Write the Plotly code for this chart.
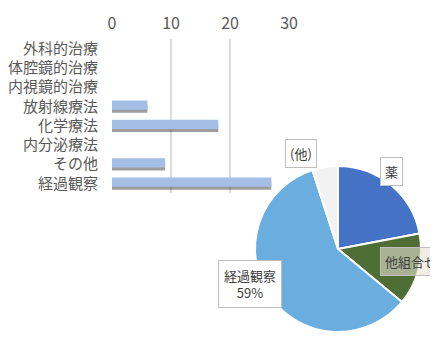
import plotly.graph_objects as go

# Bar chart data
bar_categories = ["外科的治療", "体腔鏡的治療", "内視鏡的治療", "放射線療法", "化学療法", "内分泌療法", "その他", "経過観察"]
bar_values = [0, 0, 0, 6, 18, 0, 9, 27]
x_ticks = [0, 10, 20, 30]

# Pie chart data
pie_labels = ["薬", "他組合せ", "経過観察", "(他)"]
pie_values = [22, 14, 59, 5]
pie_colors = ["#4472C4", "#4e6e35", "#6aaee0", "#f2f2f2"]

W, H = 438, 338
OFF = 8  # page body margin offset
FONT = "Noto Sans CJK JP"


def px(x):
    return (x - OFF) / W


def py(y):
    return 1 - (y - OFF) / H


fig = go.Figure()

# bar shadow
fig.add_trace(go.Bar(
    y=bar_categories, x=bar_values, orientation="h",
    marker=dict(color="rgba(60,60,60,0.5)", line=dict(width=0)),
    width=0.44, offset=-0.11, hoverinfo="skip", showlegend=False,
))
fig.add_trace(go.Bar(
    y=bar_categories, x=bar_values, orientation="h",
    marker=dict(color="#a4bfe6", line=dict(width=0)),
    width=0.48, offset=-0.30, showlegend=False,
))

fig.add_trace(go.Pie(
    labels=pie_labels, values=pie_values, sort=False, direction="clockwise", rotation=0,
    marker=dict(colors=pie_colors, line=dict(color="white", width=2)),
    textinfo="none", showlegend=False,
    domain=dict(x=[px(338 - 83), px(338 + 83)], y=[py(249 + 83), py(249 - 83)]),
))

fig.update_layout(
    width=W, height=H,
    margin=dict(l=0, r=0, t=0, b=0, autoexpand=False),
    paper_bgcolor="white", plot_bgcolor="white",
    barmode="overlay",
    font=dict(family=FONT, color="#595959", size=15),
    xaxis=dict(
        domain=[px(112), px(289)], range=[0, 30], side="top", automargin=False,
        tickvals=x_ticks, showgrid=True, gridcolor="#dcdcdc", gridwidth=2,
        zeroline=False, showline=False, tickfont=dict(size=16, color="#595959"),
        ticklabelstandoff=6, fixedrange=True,
    ),
    yaxis=dict(
        domain=[py(193), py(39)], autorange="reversed", automargin=False,
        showgrid=False, zeroline=False, showline=False,
        tickfont=dict(size=15, color="#595959"), ticklabelstandoff=13,
    ),
    annotations=[
        dict(x=px(317), y=py(153), xref="paper", yref="paper", text="(他)", showarrow=False,
             font=dict(size=13, color="#404040", family=FONT), bgcolor="white",
             bordercolor="#bfbfbf", borderwidth=1, borderpad=4),
        dict(x=px(403), y=py(171), xref="paper", yref="paper", text="薬", showarrow=False,
             font=dict(size=13, color="#404040", family=FONT), bgcolor="white",
             bordercolor="#bfbfbf", borderwidth=1, borderpad=4),
        dict(x=px(380), y=py(276), xref="paper", yref="paper", xanchor="left", text="他組合せ",
             showarrow=False, font=dict(size=13, color="#404040", family=FONT),
             bgcolor="rgba(230,225,212,0.6)", bordercolor="#bfbfbf", borderwidth=1, borderpad=4),
        dict(x=px(250), y=py(308), xref="paper", yref="paper", text="経過観察<br>59%",
             showarrow=False, font=dict(size=13, color="#404040", family=FONT), bgcolor="white",
             bordercolor="#bfbfbf", borderwidth=1, borderpad=5),
    ],
)

fig.write_html("out.html")
